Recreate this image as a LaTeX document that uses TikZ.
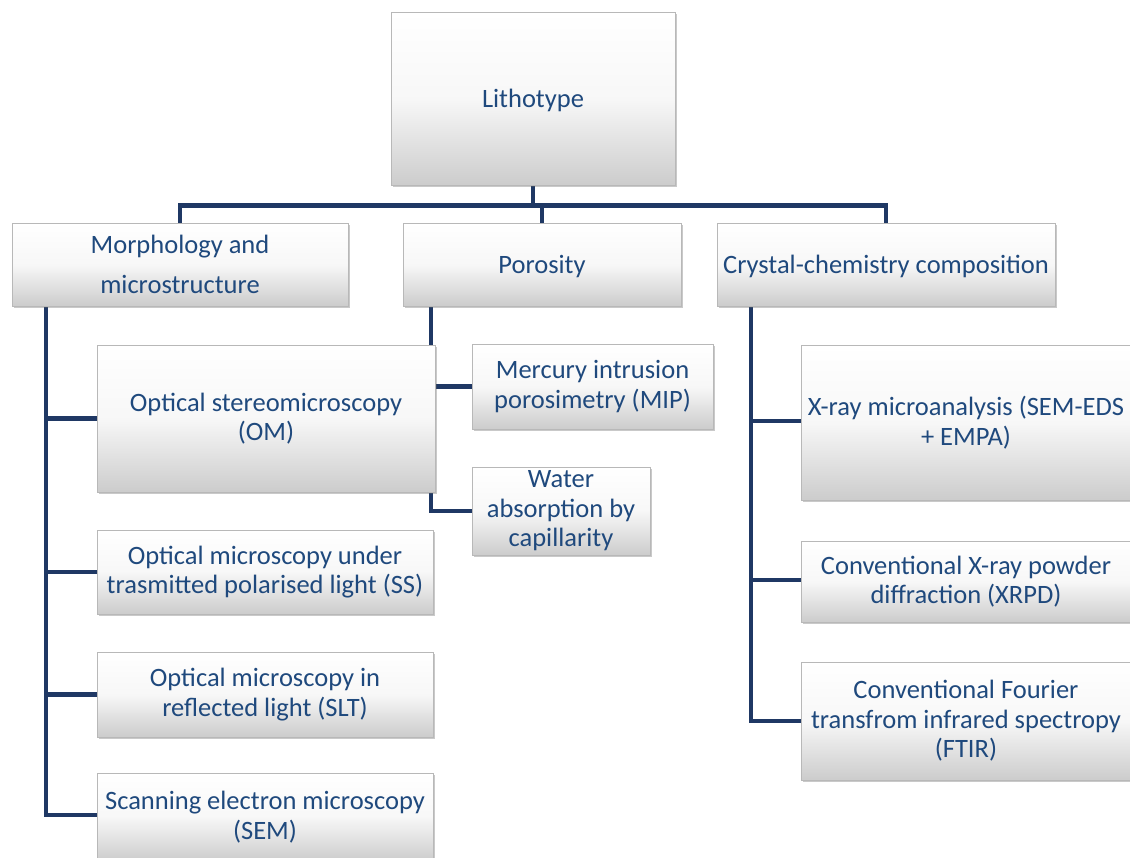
\documentclass[tikz,border=0pt]{standalone}
\usepackage{fontspec}
\setmainfont{Carlito}
\usetikzlibrary{shadows,positioning}
\definecolor{txtblue}{HTML}{1F497D}
\definecolor{navy}{HTML}{1F3864}
\pgfdeclarelayer{background}
\pgfdeclarelayer{canvas}
\pgfsetlayers{canvas,background,main}
\tikzset{
  box/.style={rectangle, draw=black!28, line width=0.6pt,
    top color=white, bottom color=black!20, middle color=black!3,
    text=txtblue, align=center, inner sep=2pt,
    font=\fontsize{26.5}{29.5}\selectfont,
    drop shadow={shadow xshift=2pt, shadow yshift=-2pt, opacity=0.35, fill=black!60}},
  onelinebox/.style={box, text height=24pt, text depth=6pt},
  conn/.style={draw=navy, line width=4.5pt}
}
\begin{document}
\begin{tikzpicture}[x=1pt,y=-1pt]
\clip (0,0) rectangle (1130,857);
\begin{pgfonlayer}{canvas}
\fill[white] (0,0) rectangle (1130,857);
\end{pgfonlayer}
% level 0
\node[onelinebox, minimum width=284, minimum height=173] (lith) at (533,98.5) {Lithotype};
% level 1
\node[box, minimum width=336, minimum height=83] (morph) at (180,264.5) {Morphology and\\[11pt]microstructure};
\node[onelinebox, minimum width=278, minimum height=83] (poro) at (542,264.5) {Porosity};
\node[onelinebox, minimum width=338, minimum height=83] (cryst) at (886,264.5) {Crystal-chemistry composition};
% left column
\node[box, minimum width=338, minimum height=147] (om) at (266,418.5) {Optical stereomicroscopy\\(OM)};
\node[box, minimum width=336, minimum height=84] (ss) at (265,572) {Optical microscopy under\\trasmitted polarised light (SS)};
\node[box, minimum width=336, minimum height=85] (slt) at (265,694.5) {Optical microscopy in\\reflected light (SLT)};
\node[box, minimum width=336, minimum height=88] (sem) at (265,817) {Scanning electron microscopy\\(SEM)};
% middle column
\node[box, minimum width=241, minimum height=85] (mip) at (592.5,386.5) {Mercury intrusion\\porosimetry (MIP)};
\node[box, minimum width=178, minimum height=88] (water) at (561,511) {Water\\absorption by\\capillarity};
% right column
\node[box, minimum width=330, minimum height=155] (xray) at (966,422.5) {X-ray microanalysis (SEM-EDS\\+ EMPA)};
\node[box, minimum width=330, minimum height=81] (xrpd) at (966,581.5) {Conventional X-ray powder\\diffraction (XRPD)};
\node[box, minimum width=330, minimum height=118] (ftir) at (966,721) {Conventional Fourier\\transfrom infrared spectropy\\(FTIR)};
% connectors
\coordinate (mv) at (46,306);
\coordinate (pv) at (431,306);
\coordinate (cv) at (751,306);
\begin{pgfonlayer}{background}
\draw[conn] (lith.south) -- ++(0,20) -| (morph.north);
\draw[conn] (lith.south) -- ++(0,20) -| (poro.north);
\draw[conn] (lith.south) -- ++(0,20) -| (cryst.north);
\draw[conn] (mv) |- (om.west);
\draw[conn] (mv) |- (ss.west);
\draw[conn] (mv) |- (slt.west);
\draw[conn] (mv) |- ([yshift=2pt]sem.west);
\draw[conn] (pv) |- (mip.west);
\draw[conn] (pv) |- (water.west);
\draw[conn] (cv) |- ([yshift=1.5pt]xray.west);
\draw[conn] (cv) |- ([yshift=1.5pt]xrpd.west);
\draw[conn] (cv) |- (ftir.west);
\end{pgfonlayer}
\end{tikzpicture}
\end{document}
